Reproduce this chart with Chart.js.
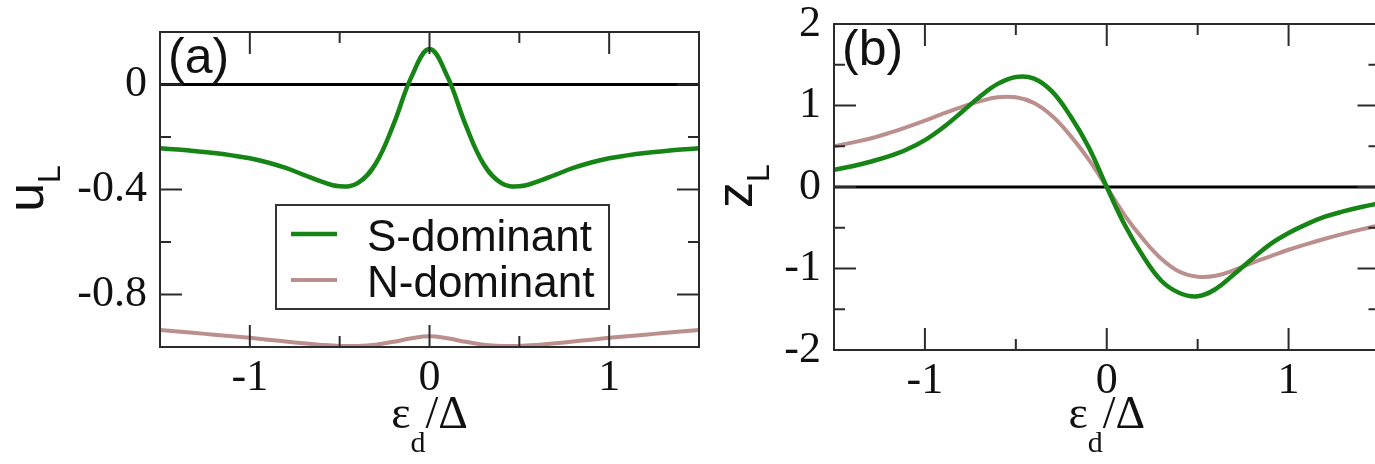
<!DOCTYPE html>
<html>
<head>
<meta charset="utf-8">
<script src="https://cdn.jsdelivr.net/npm/chart.js@4.4.0/dist/chart.umd.min.js"></script>
<style>
  html, body { margin: 0; padding: 0; background: #fff; overflow: hidden; width: 1375px; height: 464px; }
  canvas { position: absolute; top: 0; }
  #panelA { left: 0; }
  #panelB { left: 690px; }
</style>
</head>
<body>
<canvas id="panelA" width="700" height="464"></canvas>
<canvas id="panelB" width="720" height="464"></canvas>
<script>
// energy level eps_d / Delta
const eps = [-1.5, -1.4, -1.3, -1.2, -1.1, -1.0, -0.9, -0.8, -0.7, -0.6, -0.5, -0.4, -0.3, -0.2, -0.1, 0,
  0.1, 0.2, 0.3, 0.4, 0.5, 0.6, 0.7, 0.8, 0.9, 1.0, 1.1, 1.2, 1.3, 1.4, 1.5];

// panel (a): u_L
const uS = [-0.243, -0.248, -0.254, -0.261, -0.270, -0.281, -0.297, -0.318, -0.344, -0.370, -0.388, -0.376, -0.302, -0.152, 0.030, 0.135,
  0.030, -0.152, -0.302, -0.376, -0.388, -0.370, -0.344, -0.318, -0.297, -0.281, -0.270, -0.261, -0.254, -0.248, -0.243];
const uN = [-0.935, -0.941, -0.947, -0.953, -0.959, -0.965, -0.972, -0.979, -0.986, -0.992, -0.996, -0.996, -0.991, -0.980, -0.967, -0.959,
  -0.967, -0.980, -0.991, -0.996, -0.996, -0.992, -0.986, -0.979, -0.972, -0.965, -0.959, -0.953, -0.947, -0.941, -0.935];

// panel (b): z_L
const zS = [0.21, 0.255, 0.31, 0.375, 0.46, 0.575, 0.73, 0.915, 1.105, 1.265, 1.35, 1.33, 1.17, 0.87, 0.49, 0,
  -0.47, -0.85, -1.15, -1.30, -1.34, -1.25, -1.07, -0.88, -0.70, -0.565, -0.455, -0.365, -0.30, -0.245, -0.20];
const zN = [0.50, 0.545, 0.595, 0.66, 0.735, 0.815, 0.90, 0.98, 1.05, 1.10, 1.10, 1.03, 0.87, 0.63, 0.34, 0,
  -0.35, -0.64, -0.88, -1.04, -1.10, -1.09, -1.02, -0.93, -0.85, -0.77, -0.70, -0.635, -0.575, -0.52, -0.47];

const seriesNames = ['S-dominant', 'N-dominant'];
const seriesColors = ['#168516', '#bc8f8f'];

const xTicks = [-1, 0, 1];
const xMinor = [-0.5, 0.5];
const uTicks = [0, -0.4, -0.8];
const uMinor = [-0.2, -0.6];
const zTicks = [2, 1, 0, -1, -2];
const zMinor = [1.5, 0.5, -0.5, -1.5];

const pts = ys => eps.map((x, i) => ({ x, y: ys[i] }));

// frame with inward ticks on all four sides, axis titles, panel tag, legend
const decor = {
  id: 'decor',
  afterDraw(chart, args, o) {
    const { ctx, chartArea: a, scales: { x, y } } = chart;
    ctx.save();
    ctx.strokeStyle = '#2b2b2b';
    ctx.lineWidth = 2;
    ctx.strokeRect(a.left, a.top, a.right - a.left, a.bottom - a.top);
    const seg = (x1, y1, x2, y2) => { ctx.beginPath(); ctx.moveTo(x1, y1); ctx.lineTo(x2, y2); ctx.stroke(); };
    const xt = (vals, len) => vals.forEach(v => {
      const p = x.getPixelForValue(v);
      seg(p, a.bottom, p, a.bottom - len);
      seg(p, a.top, p, a.top + len);
    });
    const yt = (vals, len) => vals.forEach(v => {
      const p = y.getPixelForValue(v);
      seg(a.left, p, a.left + len, p);
      seg(a.right, p, a.right - len, p);
    });
    xt(o.xMajor, 22); xt(o.xMinor, 11);
    yt(o.yMajor, 22); yt(o.yMinor, 11);

    ctx.fillStyle = '#111';
    ctx.textBaseline = 'alphabetic';
    ctx.textAlign = 'left';

    // panel tag
    ctx.font = '50px "Liberation Sans"';
    ctx.fillText(o.tag, a.left + 8, a.top + 41);

    // y title, rotated, with subscript
    ctx.save();
    ctx.translate(o.yTitleX, (a.top + a.bottom) / 2 - 1);
    ctx.rotate(-Math.PI / 2);
    ctx.font = '52px "Liberation Sans"';
    const w1 = ctx.measureText(o.yTitle).width;
    ctx.font = '32px "Liberation Sans"';
    const w2 = ctx.measureText('L').width;
    const s = -(w1 + w2) / 2;
    ctx.font = '52px "Liberation Sans"';
    ctx.fillText(o.yTitle, s, 0);
    ctx.font = '32px "Liberation Sans"';
    ctx.fillText('L', s + w1, 17);
    ctx.restore();

    // x title: eps_d / Delta
    const cx = (a.left + a.right) / 2;
    const base = 428;
    ctx.font = '46px "Liberation Serif"';
    const we = ctx.measureText('ε').width;
    const wr = ctx.measureText('/Δ').width;
    ctx.font = '30px "Liberation Serif"';
    const wd = ctx.measureText('d').width;
    const px = cx - (we + wd + wr) / 2;
    ctx.font = '46px "Liberation Serif"';
    ctx.fillText('ε', px, base);
    ctx.font = '30px "Liberation Serif"';
    ctx.fillText('d', px + we, base + 24);
    ctx.font = '46px "Liberation Serif"';
    ctx.fillText('/Δ', px + we + wd, base);

    // legend box
    if (o.legend) {
      const L = o.legend;
      ctx.fillStyle = '#fff';
      ctx.fillRect(L.x, L.y, L.w, L.h);
      ctx.strokeStyle = '#333';
      ctx.lineWidth = 2;
      ctx.strokeRect(L.x, L.y, L.w, L.h);
      ctx.font = '44px "Liberation Sans"';
      chart.data.datasets.filter(d => seriesNames.includes(d.label)).forEach((d, i) => {
        const ly = L.y + 29 + i * 46;
        ctx.strokeStyle = d.borderColor;
        ctx.lineWidth = d.borderWidth;
        seg(L.x + 15, ly, L.x + 61, ly);
        ctx.fillStyle = '#111';
        ctx.fillText(d.label, L.x + 91, ly + 17);
      });
    }
    ctx.restore();
  }
};

function makePanel(id, opts) {
  return new Chart(document.getElementById(id), {
    type: 'line',
    data: {
      datasets: [
        { label: seriesNames[0], data: pts(opts.s), borderColor: seriesColors[0], borderWidth: 4.5, order: 1 },
        { label: seriesNames[1], data: pts(opts.n), borderColor: seriesColors[1], borderWidth: 4, order: 2 },
        { label: 'zero', data: [{ x: -1.5, y: 0 }, { x: 1.5, y: 0 }], borderColor: '#000', borderWidth: 3, tension: 0, order: 3 }
      ]
    },
    options: {
      responsive: false,
      animation: false,
      events: [],
      layout: { padding: { top: opts.top, right: opts.right, left: 0, bottom: 0 } },
      elements: { point: { radius: 0 }, line: { tension: 0.4, fill: false, borderJoinStyle: 'round' } },
      plugins: {
        legend: { display: false },
        tooltip: { enabled: false },
        decor: {
          tag: opts.tag, yTitle: opts.yTitle, yTitleX: opts.yTitleX,
          xMajor: xTicks, xMinor: xMinor, yMajor: opts.yTicks, yMinor: opts.yMinor,
          legend: opts.legend
        }
      },
      scales: {
        x: {
          type: 'linear', min: -1.5, max: 1.5,
          afterBuildTicks: s => { s.ticks = xTicks.map(v => ({ value: v })); },
          afterFit: s => { s.height = opts.xHeight; s.paddingLeft = 0; s.paddingRight = 0; },
          grid: { display: false, drawTicks: false },
          border: { display: false },
          ticks: {
            padding: 5, color: '#111', maxRotation: 0, autoSkip: false,
            font: { family: 'Liberation Serif', size: 44 },
            callback: v => String(v)
          }
        },
        y: {
          type: 'linear', min: opts.yMin, max: opts.yMax,
          afterBuildTicks: s => { s.ticks = opts.yTicks.map(v => ({ value: v })); },
          afterFit: s => { s.width = opts.yWidth; s.paddingTop = 0; s.paddingBottom = 0; },
          grid: { display: false, drawTicks: false },
          border: { display: false },
          ticks: {
            padding: 13, color: '#111', autoSkip: false,
            font: { family: 'Liberation Serif', size: 44 },
            callback: v => String(v)
          }
        }
      }
    },
    plugins: [decor]
  });
}

makePanel('panelA', {
  s: uS, n: uN, yMin: -1.0, yMax: 0.2, yTicks: uTicks, yMinor: uMinor,
  top: 32, right: 1, yWidth: 160, xHeight: 117,
  tag: '(a)', yTitle: 'u', yTitleX: 43,
  legend: { x: 276, y: 205, w: 333, h: 104 }
});

makePanel('panelB', {
  s: zS, n: zN, yMin: -2, yMax: 2, yTicks: zTicks, yMinor: zMinor,
  top: 24, right: 30.5, yWidth: 144, xHeight: 114,
  tag: '(b)', yTitle: 'z', yTitleX: 62
});
</script>
</body>
</html>
